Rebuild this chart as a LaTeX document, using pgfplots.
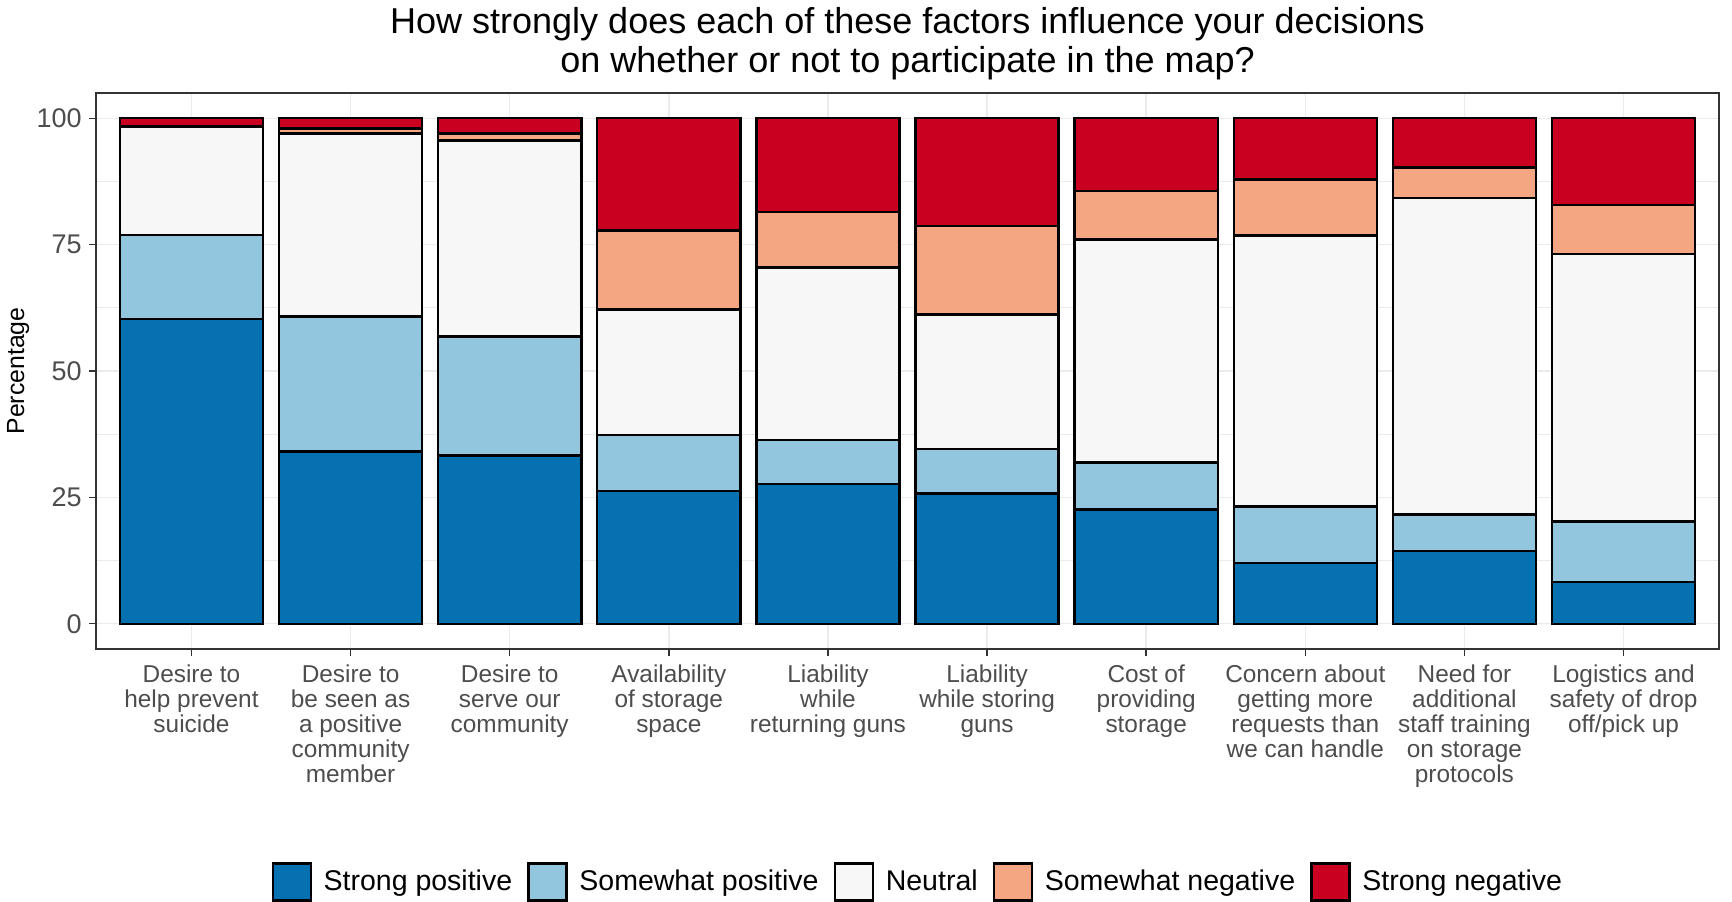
\documentclass[border=0pt]{standalone}
\usepackage{fontspec}
\setmainfont{Liberation Sans}
\usepackage{pgfplots}
\pgfplotsset{compat=1.18}
\definecolor{sp}{HTML}{0571B0}
\definecolor{swp}{HTML}{92C5DE}
\definecolor{neu}{HTML}{F7F7F7}
\definecolor{swn}{HTML}{F4A582}
\definecolor{sn}{HTML}{CA0020}
\definecolor{gridc}{HTML}{EBEBEB}
\definecolor{border}{HTML}{333333}
\definecolor{ticktext}{HTML}{4D4D4D}
\begin{document}
\begin{tikzpicture}
\begin{axis}[
  at={(48pt,126pt)}, anchor=south west,
  scale only axis, width=811.5pt, height=278pt,
  set layers,
  xmin=0.4, xmax=10.6, ymin=-5, ymax=105,
  ybar stacked, bar width=0.9,
  xtick={1,2,3,4,5,6,7,8,9,10},
  xticklabels={{Desire to\\help prevent\\suicide},{Desire to\\be seen as\\a positive\\community\\member},{Desire to\\serve our\\community},{Availability\\of storage\\space},{Liability\\while\\returning guns},{Liability\\while storing\\guns},{Cost of\\providing\\storage},{Concern about\\getting more\\requests than\\we can handle},{Need for\\additional\\staff training\\on storage\\protocols},{Logistics and\\safety of drop\\off/pick up}},
  ytick={0,25,50,75,100},
  minor ytick={12.5,37.5,62.5,87.5},
  xmajorgrids, ymajorgrids, yminorgrids,
  major grid style={draw=gridc, line width=0.7pt},
  minor grid style={draw=gridc, line width=0.4pt},
  axis line style={draw=border, line width=0.8pt},
  tick style={draw=border, line width=0.7pt},
  tick align=outside, major tick length=3.5pt, minor tick length=0pt,
  xtick pos=bottom, ytick pos=left,
  /pgf/number format/assume math mode=true,
  ticklabel style={text=ticktext},
  xticklabel style={align=center, font=\fontsize{12.2pt}{12.6pt}\selectfont, anchor=north, inner sep=0pt, yshift=-4pt},
  yticklabel style={font=\fontsize{13.5pt}{15pt}\selectfont, anchor=east, inner sep=0pt, xshift=-3.5pt},
  ylabel={Percentage},
  ylabel style={font=\fontsize{12.4pt}{14pt}\selectfont, at={(axis description cs:-0.048,0.5)}, anchor=center, rotate=0},
  title={How strongly does each of these factors influence your decisions\\on whether or not to participate in the map?},
  title style={align=center, font=\fontsize{18pt}{19.6pt}\selectfont, at={(axis description cs:0.5,1)}, anchor=center, yshift=18.8pt},
  legend columns=5,
  legend style={draw=none, fill=none, at={(axis description cs:0.507,-0.419)}, anchor=center,
    font=\fontsize{14.25pt}{16pt}\selectfont,
    /tikz/every odd column/.append style={column sep=3.9pt},
    /tikz/every even column/.append style={column sep=5.6pt}},
  legend cell align=left,
  legend image code/.code={\draw[#1, draw=black, line width=1.1pt] (0pt,-9.25pt) rectangle (19pt,9.25pt);},
]
\addplot[fill=sp, draw=black, line width=1.2pt] coordinates {(1,60.3) (2,34.1) (3,33.3) (4,26.3) (5,27.6) (6,25.8) (7,22.6) (8,12.0) (9,14.4) (10,8.2)};
\addplot[fill=swp, draw=black, line width=1.2pt] coordinates {(1,16.6) (2,26.7) (3,23.5) (4,11.0) (5,8.8) (6,8.8) (7,9.3) (8,11.2) (9,7.2) (10,12.0)};
\addplot[fill=neu, draw=black, line width=1.2pt] coordinates {(1,21.5) (2,36.2) (3,38.8) (4,24.9) (5,34.1) (6,26.6) (7,44.1) (8,53.6) (9,62.6) (10,53.0)};
\addplot[fill=swn, draw=black, line width=1.2pt] coordinates {(1,0.0) (2,1.0) (3,1.4) (4,15.6) (5,10.9) (6,17.5) (7,9.6) (8,11.1) (9,6.1) (10,9.7)};
\addplot[fill=sn, draw=black, line width=1.2pt] coordinates {(1,1.6) (2,2.0) (3,3.0) (4,22.2) (5,18.6) (6,21.3) (7,14.4) (8,12.1) (9,9.7) (10,17.1)};
\legend{Strong positive, Somewhat positive, Neutral, Somewhat negative, Strong negative}
\end{axis}
\pgfresetboundingbox
\path[use as bounding box] (0,0) rectangle (866pt,450.5pt);
\end{tikzpicture}
\end{document}
